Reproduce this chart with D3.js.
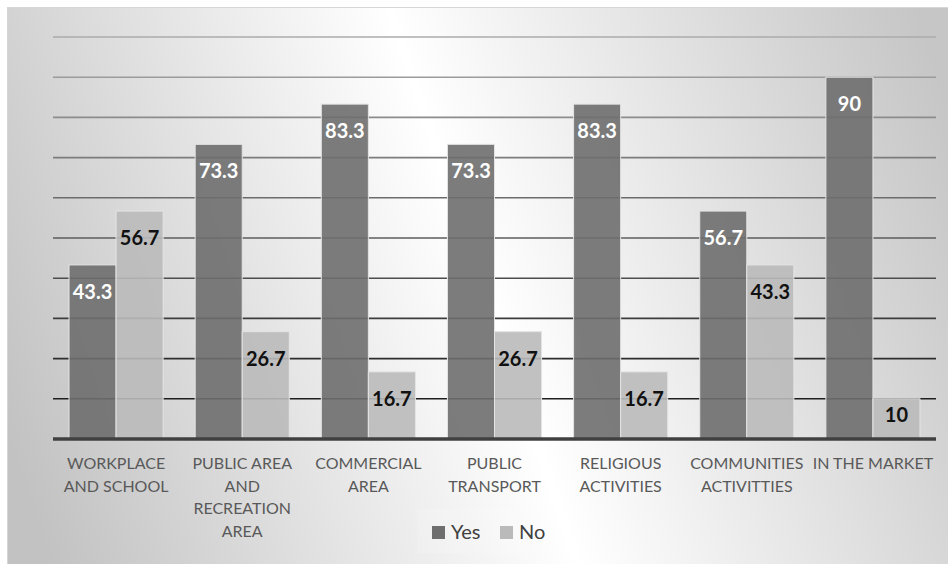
<!DOCTYPE html>
<html>
<head>
<meta charset="utf-8">
<script src="https://cdn.jsdelivr.net/npm/d3@7"></script>
<style>
  html, body { margin: 0; padding: 0; background: #fff; }
  text { font-family: Lato, "Open Sans", sans-serif; }
</style>
</head>
<body>
<div id="chart"></div>
<script>
const categories = [
  "WORKPLACE AND SCHOOL",
  "PUBLIC AREA AND RECREATION AREA",
  "COMMERCIAL AREA",
  "PUBLIC TRANSPORT",
  "RELIGIOUS ACTIVITIES",
  "COMMUNITIES ACTIVITTIES",
  "IN THE MARKET"
];
const tickLines = [
  ["WORKPLACE", "AND SCHOOL"],
  ["PUBLIC AREA", "AND", "RECREATION", "AREA"],
  ["COMMERCIAL", "AREA"],
  ["PUBLIC", "TRANSPORT"],
  ["RELIGIOUS", "ACTIVITIES"],
  ["COMMUNITIES", "ACTIVITTIES"],
  ["IN THE MARKET"]
];
const seriesNames = ["Yes", "No"];
const yesValues = [43.3, 73.3, 83.3, 73.3, 83.3, 56.7, 90];
const noValues = [56.7, 26.7, 16.7, 26.7, 16.7, 43.3, 10];
const gridTicks = [10, 20, 30, 40, 50, 60, 70, 80, 90, 100];

const W = 948, H = 564;
const colors = { Yes: "#6e6e6e", No: "#bababa" };

const data = categories.map((c, i) => ({ cat: c, Yes: yesValues[i], No: noValues[i] }));

const svg = d3.select("#chart").append("svg")
  .attr("width", W)
  .attr("height", H);

// background gradient
const defs = svg.append("defs");
const grad = defs.append("linearGradient")
  .attr("id", "bg")
  .attr("gradientUnits", "userSpaceOnUse")
  .attr("x1", 17).attr("y1", 466)
  .attr("x2", 963).attr("y2", 144);
grad.append("stop").attr("offset", 0).attr("stop-color", "#c2c2c2");
grad.append("stop").attr("offset", 0.5).attr("stop-color", "#ffffff");
grad.append("stop").attr("offset", 1).attr("stop-color", "#c6c6c6");

svg.append("rect")
  .attr("x", 7.5).attr("y", 7.5)
  .attr("width", W).attr("height", H)
  .attr("fill", "url(#bg)")
  .attr("stroke", "#d6d6d6");

// scales
const x0 = d3.scaleBand()
  .domain(categories)
  .range([53, 936])
  .paddingInner(0.254)
  .paddingOuter(0.127);

const x1 = d3.scaleBand()
  .domain(seriesNames)
  .range([0, x0.bandwidth()]);

const y = d3.scaleLinear()
  .domain([0, 100])
  .range([439, 37]);

// gridlines, darker towards the bottom
const gridColor = d3.scaleLinear()
  .domain([10, 100])
  .range(["#1e1e1e", "#ababab"]);

svg.append("g")
  .selectAll("line")
  .data(gridTicks)
  .enter()
  .append("line")
  .attr("x1", 53)
  .attr("x2", 936)
  .attr("y1", (d) => y(d))
  .attr("y2", (d) => y(d))
  .attr("stroke", (d) => gridColor(d))
  .attr("stroke-width", 1.6);

// bars
const groups = svg.append("g")
  .selectAll("g")
  .data(data)
  .enter()
  .append("g")
  .attr("transform", (d) => "translate(" + x0(d.cat) + ",0)");

groups.selectAll("rect")
  .data((d) => seriesNames.map((k) => ({ key: k, value: d[k] })))
  .enter()
  .append("rect")
  .attr("x", (d) => x1(d.key))
  .attr("y", (d) => y(d.value))
  .attr("width", x1.bandwidth())
  .attr("height", (d) => y(0) - y(d.value))
  .attr("fill", (d) => colors[d.key])
  .attr("fill-opacity", 0.9)
  .attr("stroke", "#e4e4e4")
  .attr("stroke-width", 1);

// value labels inside the bar end
groups.selectAll(".valueLabel")
  .data((d) => seriesNames.map((k) => ({ key: k, value: d[k] })))
  .enter()
  .append("text")
  .attr("class", "valueLabel")
  .attr("x", (d) => x1(d.key) + x1.bandwidth() / 2)
  .attr("y", (d) => Math.min(y(d.value) + 27, y(0) - 24))
  .attr("dy", "0.35em")
  .attr("text-anchor", "middle")
  .attr("font-size", 20)
  .attr("font-weight", "bold")
  .attr("fill", (d) => d.key === "Yes" ? "#ffffff" : "#111111")
  .text((d) => d.value);

// x axis
const xAxis = d3.axisBottom(x0).tickSize(0).tickPadding(0);
const xg = svg.append("g")
  .attr("transform", "translate(0," + y(0) + ")")
  .call(xAxis);
xg.select(".domain")
  .attr("stroke", "#404040")
  .attr("stroke-width", 3.5)
  .attr("d", "M53,0H936");
xg.selectAll(".tick text").each(function (d, i) {
  const t = d3.select(this);
  t.text(null)
    .attr("y", 0)
    .attr("dy", null)
    .attr("fill", "#595959")
    .attr("font-size", 16)
    .style("font-family", "Lato, 'Open Sans', sans-serif");
  tickLines[i].forEach((line, j) => {
    t.append("tspan")
      .attr("x", 0)
      .attr("y", 30 + j * 22.6)
      .text(line);
  });
});

// legend
const legend = svg.append("g");
legend.append("rect")
  .attr("x", 417).attr("y", 509)
  .attr("width", 136).attr("height", 44)
  .attr("fill", "#ffffff")
  .attr("fill-opacity", 0.15);

const legendItems = legend.selectAll(".item")
  .data(seriesNames)
  .enter()
  .append("g")
  .attr("class", "item")
  .attr("transform", (d, i) => "translate(" + (432 + i * 68) + ",0)");
legendItems.append("rect")
  .attr("x", 0).attr("y", 526)
  .attr("width", 13).attr("height", 13)
  .attr("fill", (d) => colors[d]);
legendItems.append("text")
  .attr("x", 19).attr("y", 532)
  .attr("dy", "0.36em")
  .attr("font-size", 20)
  .attr("fill", "#404040")
  .text((d) => d);
</script>
</body>
</html>
